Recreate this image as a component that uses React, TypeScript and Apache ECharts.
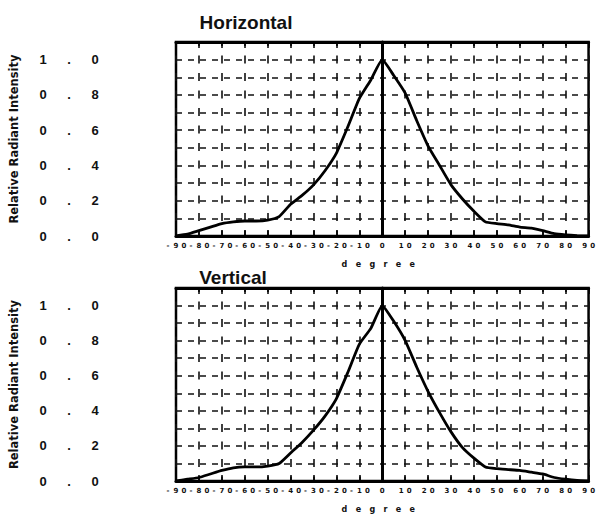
import React, { useEffect, useRef } from 'react';
import * as echarts from 'echarts';

const degrees = [-90, -85, -80, -75, -70, -65, -60, -55, -50, -45, -40, -35, -30, -25, -20, -15, -10, -5, 0, 5, 10, 15, 20, 25, 30, 35, 40, 45, 50, 55, 60, 65, 70, 75, 80, 85, 90];
const horizontal = [0.0, 0.01, 0.03, 0.05, 0.07, 0.08, 0.085, 0.085, 0.09, 0.11, 0.18, 0.23, 0.29, 0.37, 0.47, 0.62, 0.78, 0.885, 1.0, 0.91, 0.81, 0.655, 0.51, 0.4, 0.29, 0.21, 0.14, 0.08, 0.07, 0.063, 0.05, 0.045, 0.03, 0.013, 0.006, 0.002, 0.0];
const vertical = [0.0, 0.01, 0.02, 0.04, 0.06, 0.075, 0.08, 0.08, 0.085, 0.1, 0.16, 0.22, 0.29, 0.37, 0.47, 0.62, 0.78, 0.87, 1.0, 0.91, 0.8, 0.65, 0.51, 0.39, 0.28, 0.19, 0.13, 0.08, 0.07, 0.065, 0.06, 0.05, 0.04, 0.02, 0.01, 0.003, 0.0];
const panelTitles = ['Horizontal', 'Vertical'];
const xName = 'degree';
const yName = 'Relative Radiant Intensity';

const grids = [
  { left: 166, top: 42, width: 431, height: 194 },
  { left: 165, top: 288, width: 432, height: 193 },
];

export default function App() {
  const ref = useRef<HTMLDivElement>(null);
  useEffect(() => {
    document.body.style.margin = '0';
    const chart = echarts.init(ref.current!, null, { renderer: 'svg' });
    const seriesData = [horizontal, vertical];
    const xAxes: any[] = [];
    const yAxes: any[] = [];
    const series: any[] = [];
    grids.forEach((g, i) => {
      xAxes.push({
        type: 'value', gridIndex: i, min: -90, max: 90, interval: 10, position: 'bottom',
        name: xName.split('').join('   '), nameLocation: 'middle', nameGap: 24,
        nameTextStyle: { fontSize: 8, fontWeight: 'bold', color: '#111', fontFamily: 'DejaVu Sans', padding: [0, 8, 0, 0] },
        axisLine: { show: true, lineStyle: { color: '#000', width: 3 } },
        axisTick: { show: true, inside: true, length: 6, lineStyle: { color: '#000', width: 1.5 } },
        axisLabel: {
          margin: 6,
          formatter: (v: number) => String(v).split('').map((c) => `{c|${c}}`).join(''),
          rich: { c: { width: 8, align: 'center', fontSize: 7, fontWeight: 'bold', color: '#111', fontFamily: 'DejaVu Sans' } },
        },
        splitLine: { show: true, lineStyle: { color: '#111', width: 1.6, type: [8, 9.5], dashOffset: 4 } },
      });
      xAxes.push({
        type: 'value', gridIndex: i, min: -90, max: 90, interval: 10, position: 'top',
        axisLine: { show: true, lineStyle: { color: '#000', width: 3 } },
        axisTick: { show: true, inside: true, length: 6, lineStyle: { color: '#000', width: 1.5 } },
        axisLabel: { show: false },
        splitLine: { show: false },
      });
      yAxes.push({
        type: 'value', gridIndex: i, min: 0, max: 1.1, interval: 0.1,
        name: yName, nameLocation: 'middle', nameGap: 156, nameRotate: 90,
        nameTextStyle: { fontSize: 11.5, fontWeight: 'bold', color: '#111', fontFamily: 'DejaVu Sans' },
        axisLine: { show: true, lineStyle: { color: '#000', width: 3 } },
        axisTick: { show: false },
        axisLabel: {
          margin: 68,
          formatter: (v: number) => {
            const k = Math.round(v * 10);
            if (k % 2 !== 0 || k > 10) return '';
            return (k / 10).toFixed(1).split('').map((c) => `{d|${c}}`).join('');
          },
          rich: { d: { width: 26, align: 'center', fontSize: 13, fontWeight: 'bold', color: '#111', fontFamily: 'Liberation Sans' } },
        },
        splitLine: { show: true, lineStyle: { color: '#111', width: 1.6, type: [6, 6], dashOffset: 0 } },
      });
      series.push({
        type: 'line', xAxisIndex: i * 2, yAxisIndex: i,
        data: degrees.map((d, j) => [d, seriesData[i][j]]),
        showSymbol: false, smooth: 0.15,
        lineStyle: { color: '#000', width: 2.8 },
        markLine: {
          silent: true, symbol: 'none', label: { show: false },
          lineStyle: { color: '#000', width: 2, type: 'solid' },
          data: [{ xAxis: 0 }],
        },
      });
    });
    chart.setOption({
      animation: false,
      backgroundColor: '#fff',
      title: [
        { text: panelTitles[0], left: 241, top: 8, textAlign: 'center', textStyle: { fontSize: 19, fontWeight: 'bold', color: '#111', fontFamily: 'Liberation Sans' } },
        { text: panelTitles[1], left: 228, top: 263, textAlign: 'center', textStyle: { fontSize: 19, fontWeight: 'bold', color: '#111', fontFamily: 'Liberation Sans' } },
      ],
      grid: grids.map((g) => ({ ...g, show: true, borderColor: '#000', borderWidth: 2.5, backgroundColor: 'transparent' })),
      xAxis: xAxes,
      yAxis: yAxes,
      series,
    });
    return () => chart.dispose();
  }, []);
  return <div ref={ref} style={{ width: 598, height: 515 }} />;
}
